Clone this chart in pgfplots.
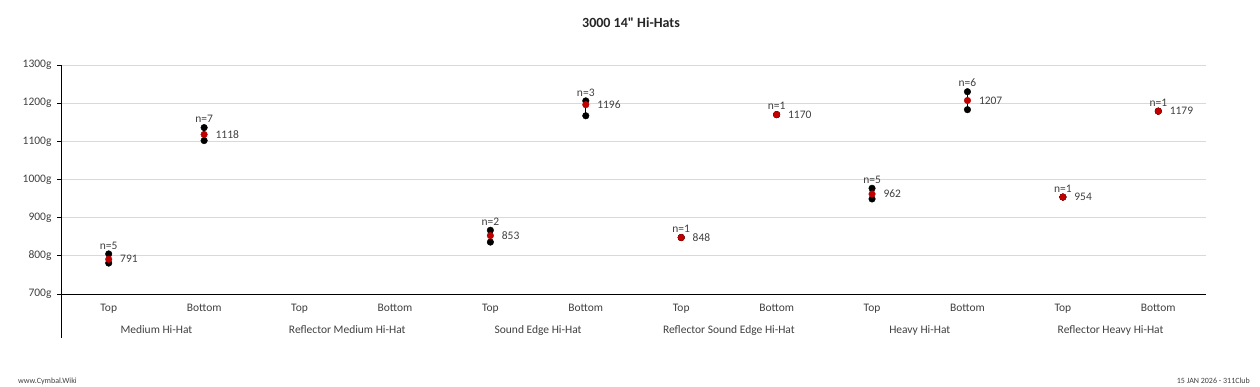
\documentclass[border=0pt]{standalone}
\usepackage{pgfplots}
\pgfplotsset{compat=1.18}
\usepackage{pgfplotstable}
\usepackage{fontspec}
\setmainfont[Ligatures=TeXOff]{Carlito}
\definecolor{meanred}{HTML}{C00000}
\definecolor{gridgray}{HTML}{D9D9D9}
\definecolor{txt}{HTML}{404040}

\pgfplotstableread{
x mean min max n
0 791 781 805 5
1 1118 1102 1136 7
4 853 836 867 2
5 1196 1167 1206 3
6 848 848 848 1
7 1170 1170 1170 1
8 962 949 977 5
9 1207 1183 1230 6
10 954 954 954 1
11 1179 1179 1179 1
}\data

\begin{document}
\begin{tikzpicture}[x=1pt,y=1pt]
\path (0,0) rectangle (1260,387);
\begin{axis}[
  at={(61pt,93pt)}, anchor=south west,
  scale only axis, width=1145pt, height=229pt,
  xmin=-0.5, xmax=11.5, ymin=700, ymax=1300,
  clip=false,
  axis line style={draw=none},
  xtick={0,...,11},
  xticklabels={Top,Bottom,Top,Bottom,Top,Bottom,Top,Bottom,Top,Bottom,Top,Bottom},
  xtick style={draw=none},
  ytick={700,800,...,1300},
  ytick pos=left,
  ymajorgrids, grid style={gridgray, line width=0.8pt},
  ytick style={black, line width=0.8pt},
  tick align=outside, major tick length=4pt,
  yticklabel={\pgfmathprintnumber{\tick}g},
  /pgf/number format/1000 sep={},
  /pgf/number format/assume math mode=true,
  tick label style={font=\fontsize{11.5}{13}\selectfont, text=txt},
  xticklabel style={yshift=-3pt},
  yticklabel style={xshift=-2pt},
]
\draw[black, line width=0.9pt] (rel axis cs:0,0) -- (rel axis cs:1,0);
\draw[black, line width=0.9pt] (rel axis cs:0,1) -- ([yshift=-44pt]rel axis cs:0,0);

\addplot[only marks, mark=none,
  error bars/.cd, y dir=both, y explicit, error mark=none,
  error bar style={black, line width=1.4pt}]
  table[x=x, y=mean, y error plus expr=\thisrow{max}-\thisrow{mean}, y error minus expr=\thisrow{mean}-\thisrow{min}] {\data};
\addplot[only marks, mark=*, mark size=3.3pt, black] table[x=x, y=min] {\data};
\addplot[only marks, mark=*, mark size=3.3pt, black,
  point meta=explicit symbolic,
  nodes near coords={n=\pgfplotspointmeta},
  every node near coord/.append style={anchor=south, yshift=2.5pt, inner sep=2pt, font=\fontsize{11.5}{13}\selectfont, text=txt}]
  table[x=x, y=max, meta=n] {\data};
\addplot[only marks, mark=*, mark size=3.3pt, meanred,
  point meta=explicit symbolic,
  nodes near coords={\pgfplotspointmeta},
  every node near coord/.append style={anchor=west, xshift=8pt, font=\fontsize{11.5}{13}\selectfont, text=txt}]
  table[x=x, y=mean, meta=mean] {\data};

\tikzset{grp/.style={font=\fontsize{11.5}{13}\selectfont, text=txt, yshift=-36pt}}
\node[grp] at (axis cs:0.5,700) {Medium Hi-Hat};
\node[grp] at (axis cs:2.5,700) {Reflector Medium Hi-Hat};
\node[grp] at (axis cs:4.5,700) {Sound Edge Hi-Hat};
\node[grp] at (axis cs:6.5,700) {Reflector Sound Edge Hi-Hat};
\node[grp] at (axis cs:8.5,700) {Heavy Hi-Hat};
\node[grp] at (axis cs:10.5,700) {Reflector Heavy Hi-Hat};
\end{axis}
\node[font=\bfseries\fontsize{14}{16}\selectfont, text=black!85] at (631,364) {3000 14" Hi-Hats};
\node[anchor=west, font=\fontsize{8}{9}\selectfont, text=txt, inner sep=0pt] at (18,6) {www.Cymbal.Wiki};
\node[anchor=east, font=\fontsize{8}{9}\selectfont, text=txt, inner sep=0pt] at (1250,6) {15 JAN 2026 - 311Club};
\end{tikzpicture}
\end{document}
